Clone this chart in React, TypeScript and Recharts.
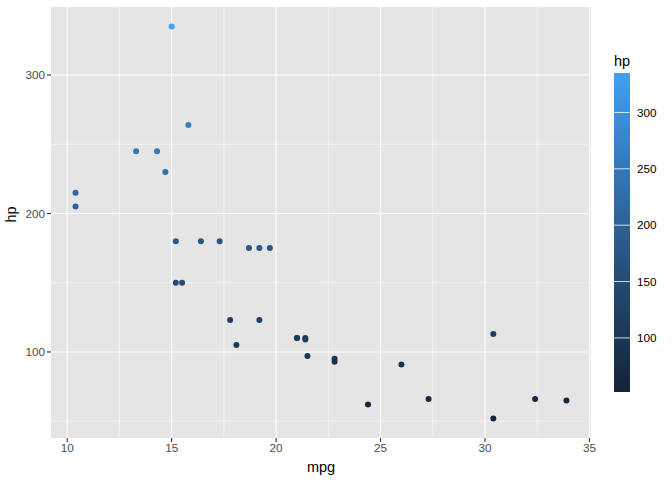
import React from 'react';
import { ScatterChart, Scatter, XAxis, YAxis, CartesianGrid } from 'recharts';

// mtcars: mpg vs hp
const carNames = [
  'Mazda RX4', 'Mazda RX4 Wag', 'Datsun 710', 'Hornet 4 Drive', 'Hornet Sportabout', 'Valiant',
  'Duster 360', 'Merc 240D', 'Merc 230', 'Merc 280', 'Merc 280C', 'Merc 450SE', 'Merc 450SL',
  'Merc 450SLC', 'Cadillac Fleetwood', 'Lincoln Continental', 'Chrysler Imperial', 'Fiat 128',
  'Honda Civic', 'Toyota Corolla', 'Toyota Corona', 'Dodge Challenger', 'AMC Javelin',
  'Camaro Z28', 'Pontiac Firebird', 'Fiat X1-9', 'Porsche 914-2', 'Lotus Europa',
  'Ford Pantera L', 'Ferrari Dino', 'Maserati Bora', 'Volvo 142E',
];
const mpg = [
  21.0, 21.0, 22.8, 21.4, 18.7, 18.1, 14.3, 24.4, 22.8, 19.2, 17.8, 16.4, 17.3, 15.2, 10.4, 10.4,
  14.7, 32.4, 30.4, 33.9, 21.5, 15.5, 15.2, 13.3, 19.2, 27.3, 26.0, 30.4, 15.8, 19.7, 15.0, 21.4,
];
const hp = [
  110, 110, 93, 110, 175, 105, 245, 62, 95, 123, 123, 180, 180, 180, 205, 215,
  230, 66, 52, 65, 97, 150, 150, 245, 175, 66, 91, 113, 264, 175, 335, 109,
];
const xTicks = [10, 15, 20, 25, 30, 35];
const xMinor = [12.5, 17.5, 22.5, 27.5, 32.5];
const yTicks = [100, 200, 300];
const yMinor = [50, 150, 250];
const legendTicks = [100, 150, 200, 250, 300];

const data = carNames.map((name, i) => ({ name, mpg: mpg[i], hp: hp[i] }));

const hpMin = Math.min(...hp);
const hpMax = Math.max(...hp);

// continuous colour scale, interpolated in Lab like ggplot's default
const hexToRgb = (h: string) => [1, 3, 5].map((i) => parseInt(h.slice(i, i + 2), 16) / 255);
const toLin = (c: number) => (c <= 0.04045 ? c / 12.92 : Math.pow((c + 0.055) / 1.055, 2.4));
const fromLin = (c: number) => (c <= 0.0031308 ? 12.92 * c : 1.055 * Math.pow(c, 1 / 2.4) - 0.055);
const Wn = [0.95047, 1, 1.08883];
const f = (t: number) => (t > 0.008856 ? Math.cbrt(t) : 7.787 * t + 16 / 116);
const fi = (t: number) => (t > 0.206893 ? t * t * t : (t - 16 / 116) / 7.787);
const rgbToLab = (hex: string) => {
  const [r, g, b] = hexToRgb(hex).map(toLin);
  const X = (0.4124 * r + 0.3576 * g + 0.1805 * b) / Wn[0];
  const Y = (0.2126 * r + 0.7152 * g + 0.0722 * b) / Wn[1];
  const Z = (0.0193 * r + 0.1192 * g + 0.9505 * b) / Wn[2];
  return [116 * f(Y) - 16, 500 * (f(X) - f(Y)), 200 * (f(Y) - f(Z))];
};
const labToHex = ([L, a, bb]: number[]) => {
  const fy = (L + 16) / 116;
  const X = fi(fy + a / 500) * Wn[0];
  const Y = fi(fy) * Wn[1];
  const Z = fi(fy - bb / 200) * Wn[2];
  const r = 3.2406 * X - 1.5372 * Y - 0.4986 * Z;
  const g = -0.9689 * X + 1.8758 * Y + 0.0415 * Z;
  const b = 0.0557 * X - 0.204 * Y + 1.057 * Z;
  return (
    '#' +
    [r, g, b]
      .map((c) => Math.round(Math.min(1, Math.max(0, fromLin(c))) * 255).toString(16).padStart(2, '0'))
      .join('')
  );
};
const lowLab = rgbToLab('#132438');
const highLab = rgbToLab('#44A0F4');
const colorFor = (v: number) => {
  const t = (v - hpMin) / (hpMax - hpMin);
  return labToHex(lowLab.map((l, i) => l + (highLab[i] - l) * t));
};

const font = '"Liberation Sans", Arial, Helvetica, sans-serif';

const Dot = (props: any) => {
  const { cx, cy, payload } = props;
  return <circle cx={cx} cy={cy} r={3} fill={colorFor(payload.hp)} />;
};

// colour bar placement
const barX = 614;
const barW = 16;
const barTop = 73;
const barBottom = 392;
const barY = (v: number) => barTop + ((hpMax - v) / (hpMax - hpMin)) * (barBottom - barTop);

const ColorBar = () => {
  const stops = Array.from({ length: 21 }, (_, i) => i / 20);
  return (
    <svg width={672} height={480} style={{ position: 'absolute', left: 0, top: 0, pointerEvents: 'none' }}>
      <defs>
        <linearGradient id="hpGrad" x1="0" y1="1" x2="0" y2="0">
          {stops.map((s) => (
            <stop key={s} offset={s} stopColor={colorFor(hpMin + s * (hpMax - hpMin))} />
          ))}
        </linearGradient>
      </defs>
      <text x={barX} y={66} fontFamily={font} fontSize={14.5} fill="#000">
        hp
      </text>
      <rect x={barX} y={barTop} width={barW} height={barBottom - barTop} fill="url(#hpGrad)" />
      {legendTicks.map((v) => (
        <g key={v}>
          <line x1={barX} x2={barX + barW} y1={barY(v)} y2={barY(v)} stroke="#fff" strokeOpacity={0.8} strokeWidth={1} />
          <text x={barX + 23} y={barY(v)} dy="0.35em" fontFamily={font} fontSize={11.7} fill="#000">
            {v}
          </text>
        </g>
      ))}
    </svg>
  );
};

export default function App() {
  return (
    <div style={{ position: 'absolute', left: 0, top: 0, width: 672, height: 480, background: '#fff' }}>
      <ScatterChart width={672} height={480} margin={{ top: 7, right: 81, bottom: 0, left: 11 }}>
        <CartesianGrid
          fill="#E5E5E5"
          stroke="#fff"
          strokeWidth={0.55}
          horizontalValues={yMinor}
          verticalValues={xMinor}
        />
        <CartesianGrid stroke="#fff" strokeWidth={1.1} horizontalValues={yTicks} verticalValues={xTicks} />
        <XAxis
          type="number"
          dataKey="mpg"
          domain={[9.225, 35.075]}
          ticks={xTicks}
          allowDataOverflow
          axisLine={false}
          tickLine={{ stroke: '#333', strokeWidth: 1.1 }}
          tickSize={4}
          tick={{ fill: '#4D4D4D', fontSize: 11.7, fontFamily: font }}
          height={42}
          label={{ value: 'mpg', position: 'insideBottom', offset: 8, fill: '#000', fontSize: 14.5, fontFamily: font }}
        />
        <YAxis
          type="number"
          dataKey="hp"
          domain={[37.85, 349.15]}
          ticks={yTicks}
          allowDataOverflow
          axisLine={false}
          tickLine={{ stroke: '#333', strokeWidth: 1.1 }}
          tickSize={4}
          tick={{ fill: '#4D4D4D', fontSize: 11.7, fontFamily: font }}
          width={40}
          label={{ value: 'hp', angle: -90, position: 'insideLeft', offset: 0, fill: '#000', fontSize: 14.5, fontFamily: font }}
        />
        <Scatter data={data} shape={<Dot />} isAnimationActive={false} />
      </ScatterChart>
      <ColorBar />
    </div>
  );
}
